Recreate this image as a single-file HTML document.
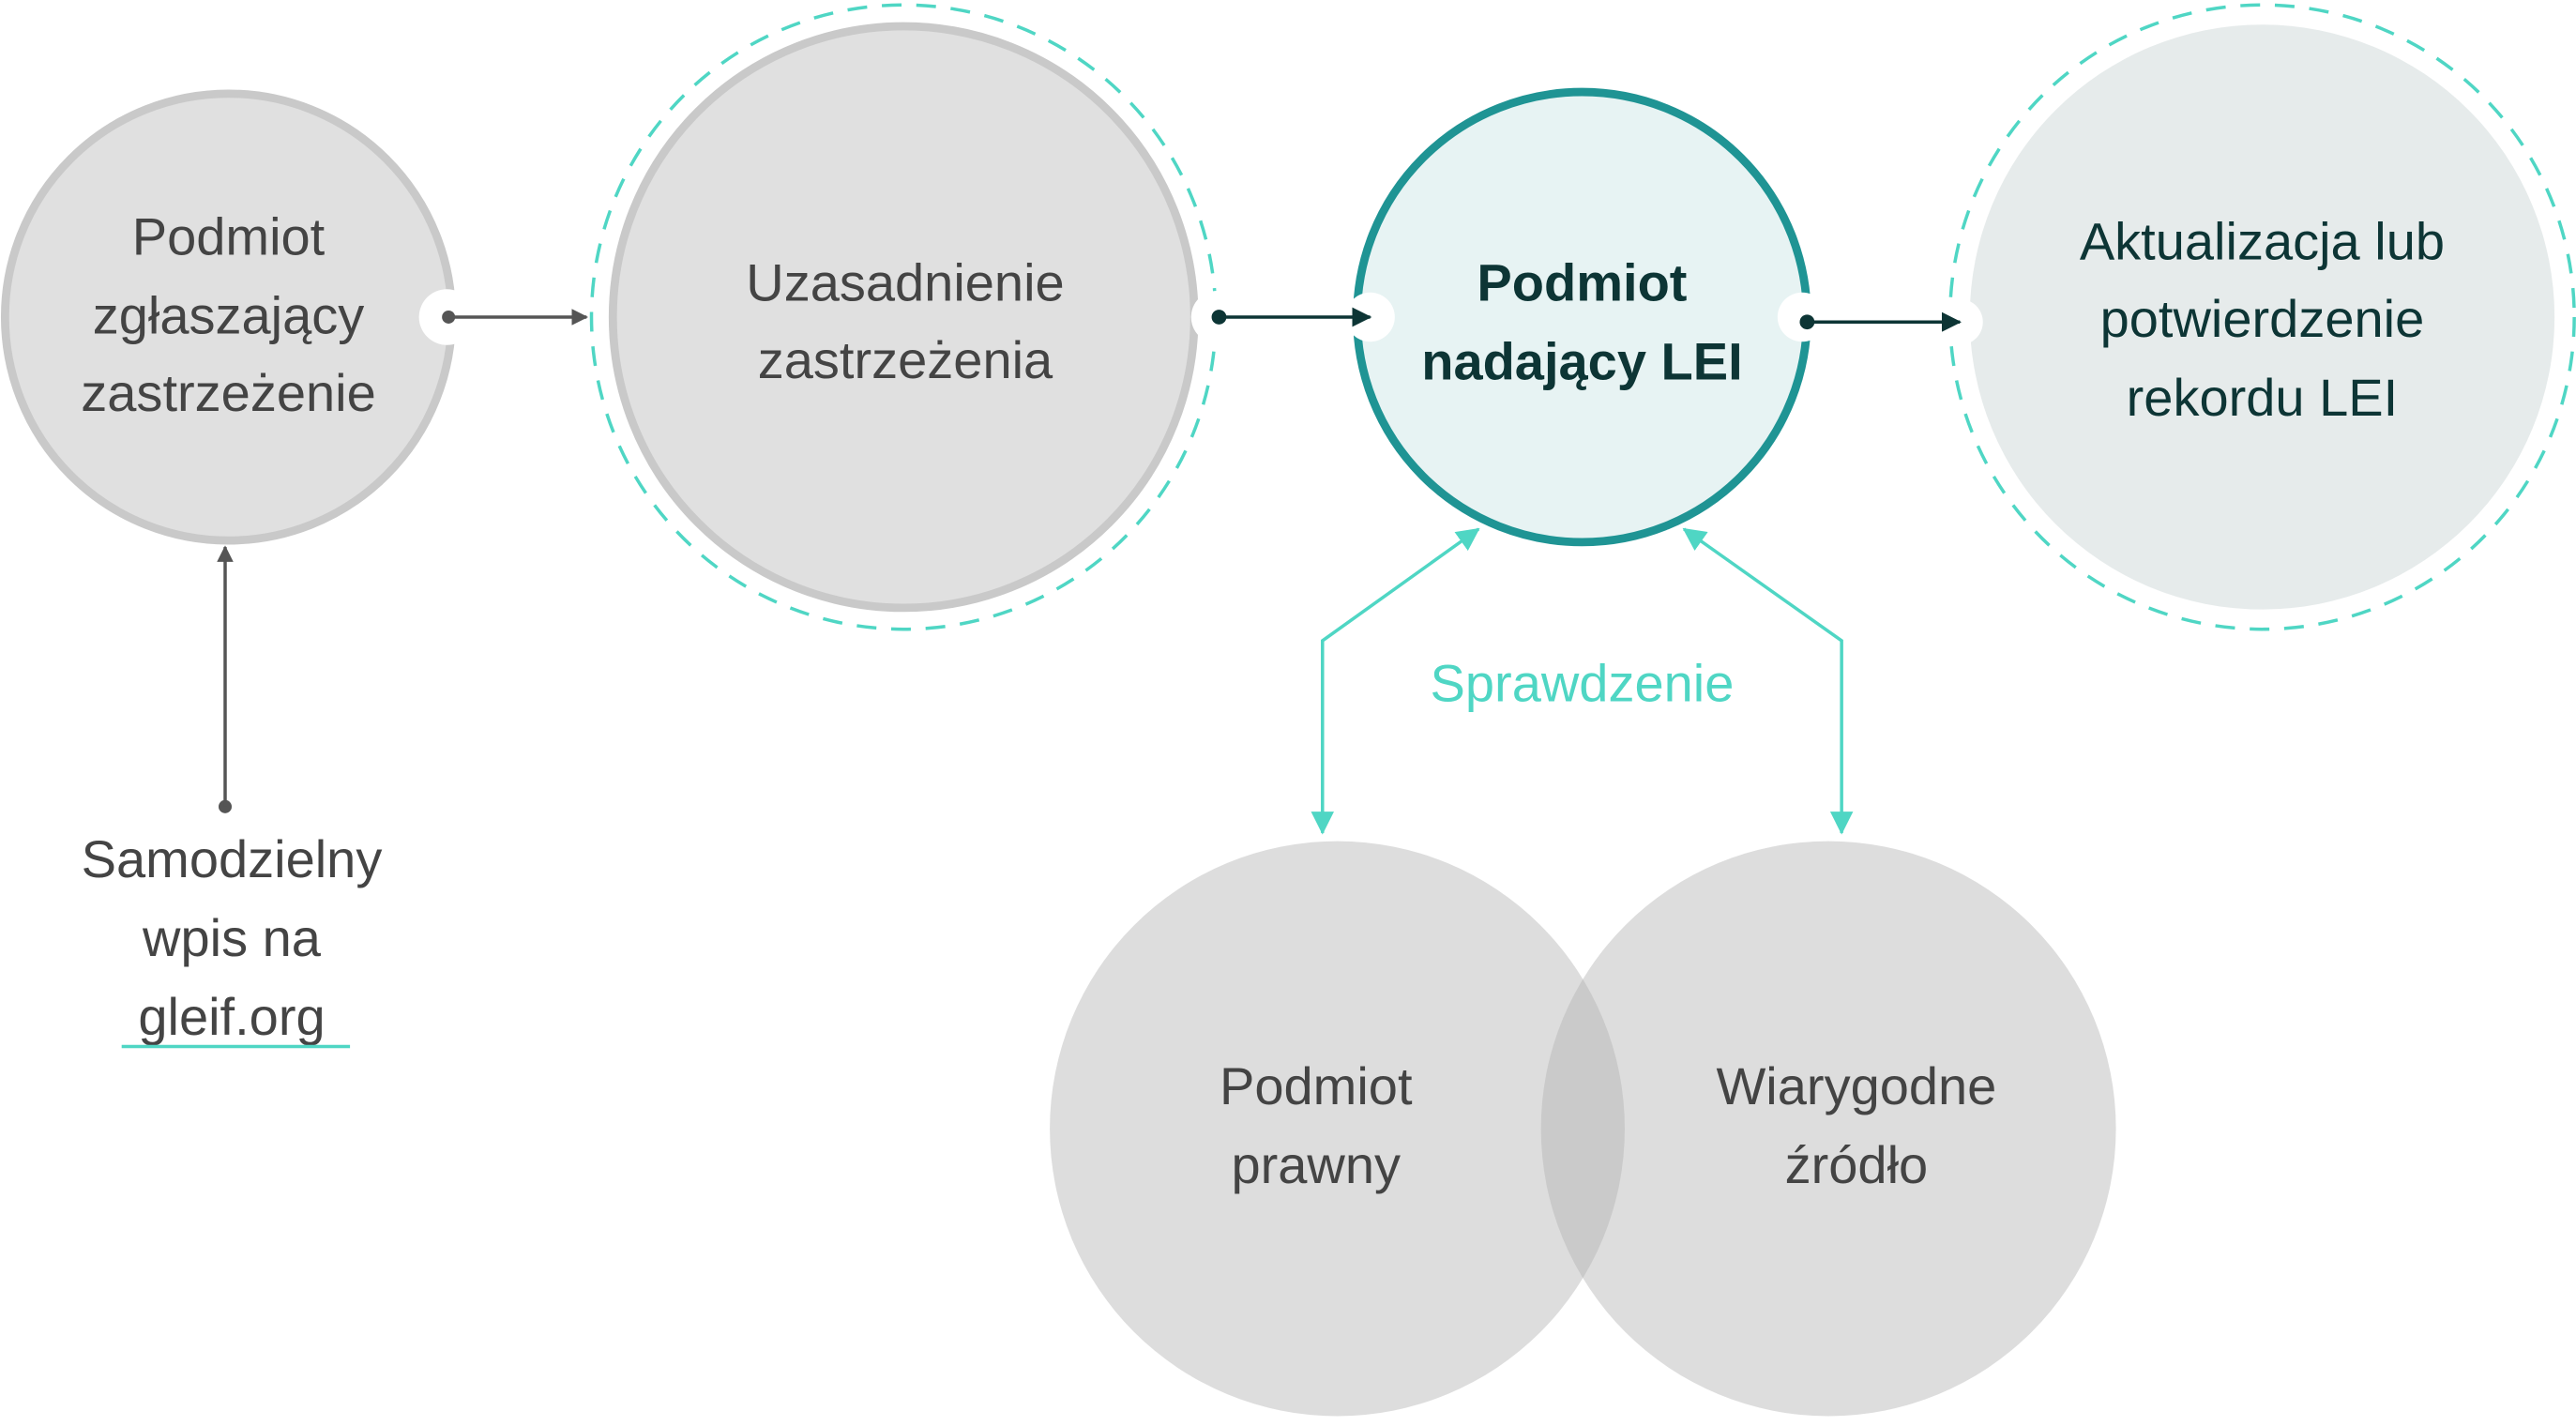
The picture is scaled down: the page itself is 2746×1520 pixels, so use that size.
<!DOCTYPE html>
<html><head><meta charset="utf-8"><style>
html,body{margin:0;padding:0;background:#fff;}
svg{display:block;}
text{font-family:"Liberation Sans","DejaVu Sans",sans-serif;text-anchor:middle;}
</style></head><body>
<svg width="2746" height="1520" viewBox="0 0 1568 868" xmlns="http://www.w3.org/2000/svg">
<defs>
<marker id="ag" markerWidth="10" markerHeight="10" refX="9" refY="5" orient="auto" markerUnits="userSpaceOnUse"><path d="M0,0 L10,5 L0,10 Z" fill="#555"/></marker>
<marker id="ad" markerWidth="12" markerHeight="12" refX="11" refY="6" orient="auto" markerUnits="userSpaceOnUse"><path d="M0,0 L12,6 L0,12 Z" fill="#0d3535"/></marker>
<marker id="at" markerWidth="14" markerHeight="14" refX="13" refY="7" orient="auto-start-reverse" markerUnits="userSpaceOnUse"><path d="M0,0 L14,7 L0,14 Z" fill="#4fd6c4"/></marker>
</defs>
<circle cx="139" cy="193" r="136" fill="#e0e0e0" stroke="#c9c9c9" stroke-width="5"/>
<circle cx="272" cy="193" r="17" fill="#fff"/>
<circle cx="550" cy="193" r="190" fill="none" stroke="#4fd6c4" stroke-width="2" stroke-dasharray="12 9"/>
<circle cx="550" cy="193" r="177" fill="#e0e0e0" stroke="#c9c9c9" stroke-width="5"/>
<circle cx="741" cy="193" r="16" fill="#fff"/>
<circle cx="963" cy="193" r="137" fill="#e7f3f3" stroke="#1f9494" stroke-width="5"/>
<circle cx="834" cy="193" r="15" fill="#fff"/>
<circle cx="1097" cy="193" r="15" fill="#fff"/>
<circle cx="1377" cy="193" r="190" fill="none" stroke="#4fd6c4" stroke-width="2" stroke-dasharray="12 9"/>
<circle cx="1377" cy="193" r="178" fill="#e6ebeb"/>
<circle cx="1193" cy="196" r="14" fill="#fff"/>
<circle cx="273" cy="193" r="4" fill="#555"/>
<line x1="273" y1="193" x2="357" y2="193" stroke="#555" stroke-width="2" marker-end="url(#ag)"/>
<circle cx="742" cy="193" r="4.5" fill="#0d3535"/>
<line x1="742" y1="193" x2="834" y2="193" stroke="#0d3535" stroke-width="2" marker-end="url(#ad)"/>
<circle cx="1100" cy="196" r="4.5" fill="#0d3535"/>
<line x1="1100" y1="196" x2="1193" y2="196" stroke="#0d3535" stroke-width="2" marker-end="url(#ad)"/>
<circle cx="137" cy="491" r="4" fill="#555"/>
<line x1="137" y1="491" x2="137" y2="333" stroke="#555" stroke-width="2" marker-end="url(#ag)"/>
<circle cx="814" cy="687" r="175" fill="#b4b4b4" fill-opacity="0.45"/>
<circle cx="1113" cy="687" r="175" fill="#b4b4b4" fill-opacity="0.45"/>
<polyline points="805,507 805,390 900,322" fill="none" stroke="#4fd6c4" stroke-width="2" marker-end="url(#at)" marker-start="url(#at)"/>
<polyline points="1121,507 1121,390 1025,322" fill="none" stroke="#4fd6c4" stroke-width="2" marker-end="url(#at)" marker-start="url(#at)"/>
<g font-size="32" fill="#444">
<text x="139" y="155">Podmiot</text>
<text x="139" y="203">zgłaszający</text>
<text x="139" y="250">zastrzeżenie</text>
<text x="551" y="183">Uzasadnienie</text>
<text x="551" y="230">zastrzeżenia</text>
<text x="141" y="534">Samodzielny</text>
<text x="141" y="582">wpis na</text>
<text x="141" y="630">gleif.org</text>
<text x="801" y="672">Podmiot</text>
<text x="801" y="720">prawny</text>
<text x="1130" y="672">Wiarygodne</text>
<text x="1130" y="720">źródło</text>
</g>
<line x1="74" y1="637" x2="213" y2="637" stroke="#4fd6c4" stroke-width="2"/>
<g font-size="32" fill="#0d3535">
<text x="963" y="183" font-weight="bold">Podmiot</text>
<text x="963" y="231" font-weight="bold">nadający LEI</text>
<text x="1377" y="158">Aktualizacja lub</text>
<text x="1377" y="205">potwierdzenie</text>
<text x="1377" y="253">rekordu LEI</text>
</g>
<text x="963" y="427" font-size="32" fill="#4fd6c4">Sprawdzenie</text>
</svg>
</body></html>
